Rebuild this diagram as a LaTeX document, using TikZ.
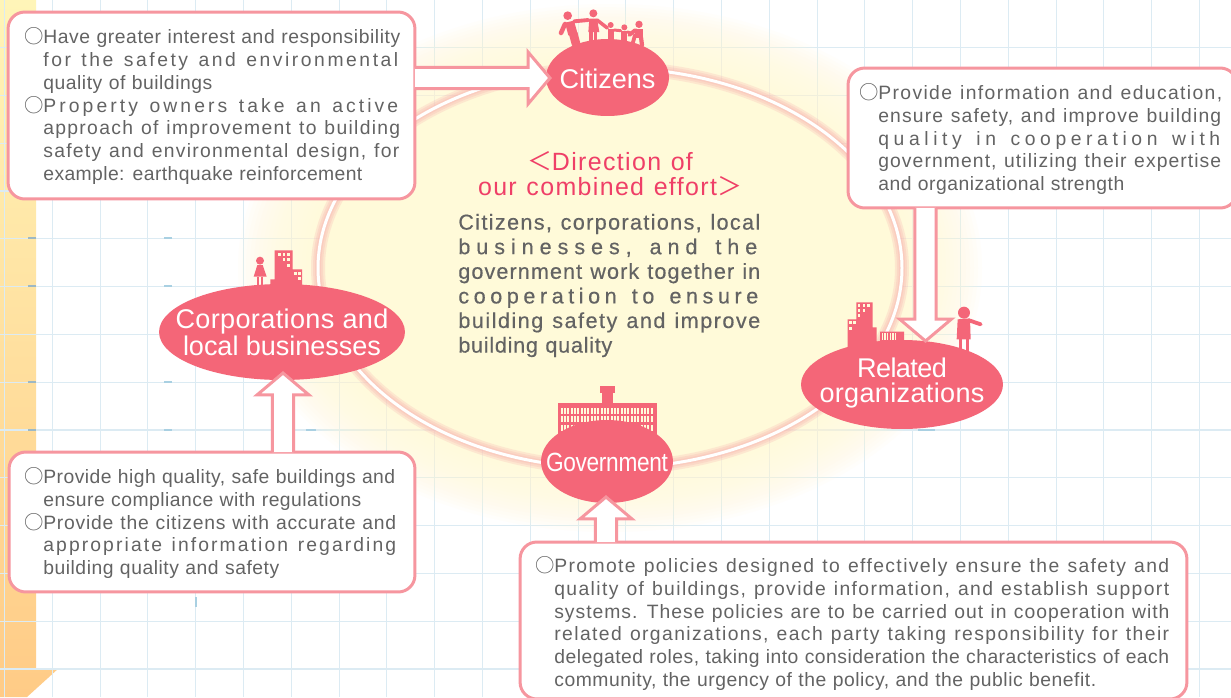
\documentclass[tikz,border=0pt]{standalone}
\usepackage{fontspec}
\usetikzlibrary{calc,shapes.geometric}
\setmainfont{Liberation Sans}
\newfontfamily\cjk{Noto Sans CJK JP}
\newfontfamily\bodyfont[FakeBold=0.4]{Liberation Sans}
\definecolor{ovalPink}{HTML}{F46678}
\definecolor{edgePink}{HTML}{F6969F}
\definecolor{titleRed}{HTML}{EF3F67}
\definecolor{textGray}{HTML}{636363}
\definecolor{creamFill}{HTML}{FFFAD9}
\definecolor{gridBlue}{HTML}{DCEBF3}
\definecolor{tickBlue}{HTML}{A9D0E2}
\definecolor{stripTop}{HTML}{FFF5B8}
\definecolor{stripEnd}{HTML}{FFCB86}
\newsavebox{\fitBox}
\ExplSyntaxOn
\cs_new:Npn \fitCount #1 { \str_count:n {#1} }
\ExplSyntaxOff
% stretch a line of text to a width given in pixels
\newcommand*{\fitLine}[2]{%
  \sbox{\fitBox}{#2}%
  \pgfmathsetmacro{\fitGap}{(#1*0.56906-\the\wd\fitBox)/(\fitCount{#2}-1)}%
  \pgfmathsetmacro{\fitSpace}{\fitGap/(1em)*100}%
  {\addfontfeature{LetterSpace=\fitSpace}\spaceskip=\dimexpr\fontdimen2\font+\fitGap pt\relax #2}}
\newcommand*{\hollowArrow}[2]{%
  \filldraw [arrowline] let \p1=($(#2)-(#1)$), \n1={atan2(\y1,\x1)} in
    ($(#1)+(\n1+180:0.9pt)+(\n1+90:6pt)$) -- ($(#2)+(\n1+180:12.5pt)+(\n1+90:6pt)$)
    -- ($(#2)+(\n1+180:12.5pt)+(\n1+90:14.8pt)$) -- (#2)
    -- ($(#2)+(\n1+180:12.5pt)+(\n1-90:14.8pt)$) -- ($(#2)+(\n1+180:12.5pt)+(\n1-90:6pt)$)
    -- ($(#1)+(\n1+180:0.9pt)+(\n1-90:6pt)$);
}
\tikzset{
  oval/.style={ellipse,fill=ovalPink,inner sep=0},
  ovaltext/.style={text=white,inner sep=0,align=center,font=\fontsize{15.4}{14.2}\selectfont},
  infobox/.style={draw=edgePink,line width=1.7pt,fill=white,rounded corners=9.5pt,inner sep=0},
  infotext/.style={anchor=west,inner sep=0,align=left,text=textGray,
    font=\fontsize{11}{12.95}\selectfont},
  arrowline/.style={draw=edgePink,fill=white,line width=1.7pt,miter limit=10},
  icon/.style={fill=ovalPink},
  iconline/.style={draw=ovalPink,line cap=round},
  window/.style={fill=creamFill},
}
\newcommand*{\bullitem}{\llap{\cjk ○}}
\begin{document}
\begin{tikzpicture}[x=0.02cm,y=-0.02cm]
  \useasboundingbox (0,0) rectangle (1231,697);
  \clip (0,0) rectangle (1231,697);
  \fill [white] (0,0) rectangle (1231,697);

  % side strip
  \shade [top color=stripTop,bottom color=stripEnd]
    (0,0) -- (36,0) -- (36,668) -- (59,668) -- (27,697) -- (0,697) -- cycle;

  % grid
  \foreach \i in {0,...,25} {
    \draw [gridBlue,line width=0.6pt] ({4.5+47.8*\i},0) -- ({4.5+47.8*\i},697);
  }
  \foreach \i in {0,...,14} {
    \draw [gridBlue,line width=0.6pt] (0,{-0.2+47.8*\i}) -- (1231,{-0.2+47.8*\i});
  }
  \foreach \i in {238,286,382,430} {
    \draw [tickBlue,line width=1.2pt] (164,\i) -- (172,\i);
    \draw [tickBlue!70!gray,line width=1.2pt] (28,\i) -- (36,\i);
  }
  \draw [tickBlue,line width=1.2pt] (306,430) -- (316,430);
  \draw [tickBlue,line width=1.2pt] (918,430) -- (935,430);
  \draw [tickBlue,line width=1.2pt] (196,597) -- (196,607);

  % glow and ring
  \foreach \i in {1,...,20} {
    \fill [creamFill,opacity=0.09] (610,268) ellipse ({292+(21-\i)*4} and {200+(21-\i)*3.2});
  }
  \fill [creamFill] (610,268) ellipse (292 and 200);
  \foreach \i in {14,10,6} {
    \draw [edgePink,line width=\i*0.569pt,opacity=0.18] (610,268) ellipse (292 and 200);
  }
  \draw [white,line width=1.7pt] (610,268) ellipse (292 and 200);

  % family
  \begin{scope}[shift={(500,0)},scale=1/3]
    \fill [icon] (203,47) circle (13);
    \fill [icon] (195,68) -- (222,62) -- (233,102) -- (205,106) -- cycle;
    \draw [iconline,line width=2.6pt] (195,72) -- (183,99);
    \draw [iconline,line width=2.2pt] (222,64) -- (265,60);
    \draw [iconline,line width=2.6pt] (213,100) -- (222,133);
    \draw [iconline,line width=2.6pt] (226,100) -- (234,130);
    \fill [icon] (280,40) circle (12);
    \fill [icon] (268,56) -- (291,56) -- (298,96) -- (265,96) -- cycle;
    \draw [iconline,line width=2pt] (273,96) -- (273,122);
    \draw [iconline,line width=2pt] (287,96) -- (287,122);
    \draw [iconline,line width=2pt] (291,60) -- (322,84);
    \fill [icon] (332,75) circle (9);
    \fill [icon] (323,86) rectangle (342,118);
    \draw [iconline,line width=1.7pt] (342,90) -- (362,92);
    \fill [icon] (373,82) circle (9);
    \fill [icon] (363,94) rectangle (382,122);
    \draw [iconline,line width=1.7pt] (382,96) -- (396,100);
    \fill [icon] (417,73) circle (11);
    \fill [icon] (406,87) -- (430,87) -- (430,115) -- (406,115) -- cycle;
    \draw [iconline,line width=2.2pt] (406,90) -- (388,105);
    \draw [iconline,line width=2.2pt] (405,105) -- (399,127);
    \draw [iconline,line width=2.4pt] (423,112) -- (426,135);
  \end{scope}

  % town and person above the related organizations
  \begin{scope}[shift={(780,280)},scale=1/3]
    \fill [icon] (203,205) -- (203,118) -- (229,118) -- (229,67) -- (278,67) -- (278,142)
      -- (290,142) -- (290,185) -- (300,185) -- (300,155) -- (372,155) -- (372,195) -- cycle;
    \foreach \x/\y in {234/72,248/72,262/72,234/87,248/87,234/102,208/124,220/124,208/140} {
      \fill [window] (\x,\y) rectangle +(7,9);
    }
    \foreach \x in {305,313,...,345} {
      \fill [window] (\x,160) rectangle +(4,21);
    }
    \fill [icon] (552,98) circle (18);
    \fill [icon] (533,118) -- (570,115) -- (572,178) -- (530,178) -- cycle;
    \draw [iconline,line width=2.2pt] (570,122) -- (602,133);
    \fill [icon] (537,178) rectangle (547,215);
    \fill [icon] (558,178) rectangle (568,215);
  \end{scope}

  % person and tower above the corporations
  \begin{scope}[shift={(150,240)},scale=1/3]
    \fill [icon] (330,62) circle (12);
    \fill [icon] (322,75) -- (338,75) -- (350,110) -- (311,110) -- cycle;
    \fill [icon] (320,110) rectangle (327,140);
    \fill [icon] (333,110) rectangle (340,140);
    \fill [icon] (361,140) -- (361,118) -- (374,118) -- (374,31) -- (428,31) -- (428,88)
      -- (456,88) -- (456,140) -- cycle;
    \foreach \x/\y in {385/40,398/40,412/40,398/55,412/55,412/72,432/95,445/95,445/110} {
      \fill [window] (\x,\y) rectangle +(8,9);
    }
  \end{scope}

  % government building
  \begin{scope}[shift={(520,380)},scale=1/3]
    \fill [icon] (240,18) rectangle (284,40);
    \fill [icon] (246,40) rectangle (279,70);
    \fill [icon] (114,68) rectangle (411,170);
    \foreach \y in {83,108,134} {
      \foreach \x in {122,132,...,400} {
        \fill [window] (\x,\y) rectangle +(6,18);
      }
    }
  \end{scope}

  % actors
  \node [oval,minimum width=123*0.569pt,minimum height=77*0.569pt,
    label={[ovaltext,yshift=-0.5pt]center:\fitLine{96}{Citizens}}] (cit) at (607.5,77.5) {};
  \node [oval,minimum width=246*0.569pt,minimum height=96*0.569pt,
    label={[ovaltext]center:{\fitLine{213}{Corporations and}\\\fitLine{198}{local businesses}}}] (corp) at (282,332) {};
  \node [oval,minimum width=202*0.569pt,minimum height=89*0.569pt,
    label={[ovaltext,yshift=0.6pt]center:{\fitLine{90}{Related}\\\fitLine{165}{organizations}}}] (rel) at (902,384.5) {};
  \node [oval,minimum width=132*0.569pt,minimum height=83*0.569pt,
    label={[ovaltext,yshift=-0.6pt,font=\fontsize{15}{14}\selectfont\addfontfeature{FakeStretch=0.86}]center:\fitLine{122}{Government}}] (gov) at (607,461.5) {};

  % centre text
  \node [align=center,inner sep=0,text=titleRed,font=\fontsize{14.2}{14.2}\selectfont] (title) at (610,174)
    {{\cjk ＜}\fitLine{141}{Direction of}\\\fitLine{239}{our combined effort}{\cjk ＞}};
  \node [infotext,font=\fontsize{12.3}{14}\bodyfont] (aim) at (458,285.5)
    {\fitLine{302}{Citizens, corporations, local}\\
     \fitLine{299}{businesses, and the}\\
     \fitLine{302}{government work together in}\\
     \fitLine{300}{cooperation to ensure}\\
     \fitLine{302}{building safety and improve}\\
     \fitLine{154}{building quality}};

  % boxes
  \node [infobox,minimum width=407*0.569pt,minimum height=187*0.569pt] (citBox) at (211.5,105.5) {};
  \node [infobox,minimum width=389*0.569pt,minimum height=140*0.569pt] (relBox) at (1042.5,138) {};
  \node [infobox,minimum width=406*0.569pt,minimum height=140*0.569pt] (corpBox) at (212,522) {};
  \node [infobox,minimum width=667*0.569pt,minimum height=157*0.569pt] (govBox) at (853.5,620.5) {};

  \node [infotext] (citText) at (43,106)
    {\bullitem\fitLine{357}{Have greater interest and responsibility}\\
     \fitLine{355}{for the safety and environmental}\\
     \fitLine{169}{quality of buildings}\\
     \bullitem\fitLine{355}{Property owners take an active}\\
     \fitLine{357}{approach of improvement to building}\\
     \fitLine{356}{safety and environmental design, for}\\
     \fitLine{319}{example: earthquake reinforcement}};
  \node [infotext] (relText) at (878,139)
    {\bullitem\fitLine{344}{Provide information and education,}\\
     \fitLine{343}{ensure safety, and improve building}\\
     \fitLine{342}{quality in cooperation with}\\
     \fitLine{343}{government, utilizing their expertise}\\
     \fitLine{246}{and organizational strength}};
  \node [infotext] (corpText) at (43,523)
    {\bullitem\fitLine{352}{Provide high quality, safe buildings and}\\
     \fitLine{318}{ensure compliance with regulations}\\
     \bullitem\fitLine{353}{Provide the citizens with accurate and}\\
     \fitLine{353}{appropriate information regarding}\\
     \fitLine{236}{building quality and safety}};
  \node [infotext] (govText) at (554,623.5)
    {\bullitem\fitLine{615}{Promote policies designed to effectively ensure the safety and}\\
     \fitLine{615}{quality of buildings, provide information, and establish support}\\
     \fitLine{615}{systems. These policies are to be carried out in cooperation with}\\
     \fitLine{615}{related organizations, each party taking responsibility for their}\\
     \fitLine{615}{delegated roles, taking into consideration the characteristics of each}\\
     \fitLine{542}{community, the urgency of the policy, and the public benefit.}};

  % arrows
  \coordinate (citTip) at (550,78);
  \coordinate (relTip) at (925.5,341);
  \coordinate (corpTip) at (283,373);
  \coordinate (govTip) at (606,497);
  \hollowArrow{citBox.east |- citTip}{citTip}
  \hollowArrow{relBox.south -| relTip}{relTip}
  \hollowArrow{corpBox.north -| corpTip}{corpTip}
  \hollowArrow{govBox.north -| govTip}{govTip}
\end{tikzpicture}
\end{document}
